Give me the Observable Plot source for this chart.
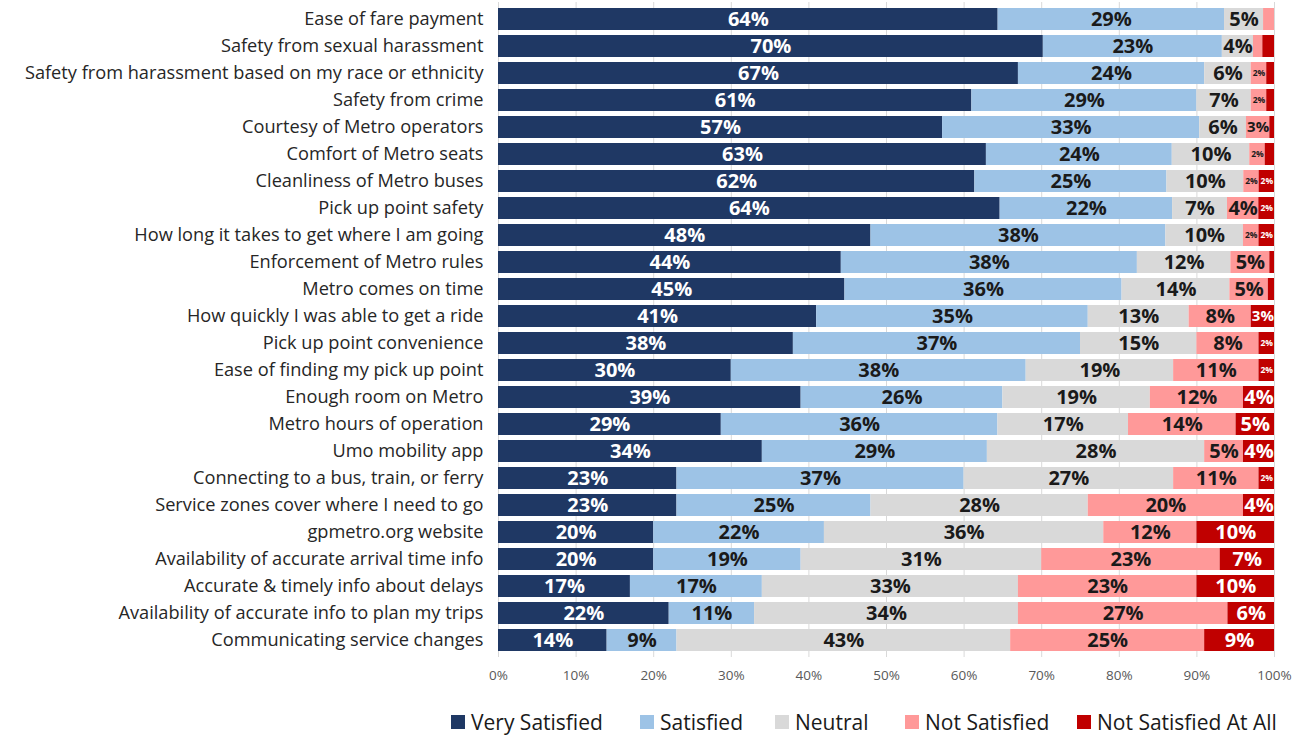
<!DOCTYPE html>
<html><head><meta charset="utf-8">
<script src="https://cdn.jsdelivr.net/npm/d3@7"></script>
<script src="https://cdn.jsdelivr.net/npm/@observablehq/plot@0.6"></script>
<style>
body{margin:0;background:#fff;font-family:"Open Sans", sans-serif;}
#chart{position:relative;width:1293px;height:735px;overflow:hidden}
#chart svg{display:block}
.legend{position:absolute;top:708px;left:0;width:1293px;height:28px;font-size:21px;color:#1a1a1a}
.item{position:absolute;top:0;display:flex;align-items:center;gap:6px;white-space:nowrap;line-height:28px}
.sw{width:14px;height:14px;display:inline-block}
</style></head><body><div id="chart"></div><script>
const categories = [
"Ease of fare payment",
"Safety from sexual harassment",
"Safety from harassment based on my race or ethnicity",
"Safety from crime",
"Courtesy of Metro operators",
"Comfort of Metro seats",
"Cleanliness of Metro buses",
"Pick up point safety",
"How long it takes to get where I am going",
"Enforcement of Metro rules",
"Metro comes on time",
"How quickly I was able to get a ride",
"Pick up point convenience",
"Ease of finding my pick up point",
"Enough room on Metro",
"Metro hours of operation",
"Umo mobility app",
"Connecting to a bus, train, or ferry",
"Service zones cover where I need to go",
"gpmetro.org website",
"Availability of accurate arrival time info",
"Accurate & timely info about delays",
"Availability of accurate info to plan my trips",
"Communicating service changes"];
const verySatisfied     = [64,70,67,61,57,63,62,64,48,44,45,41,38,30,39,29,34,23,23,20,20,17,22,14];
const satisfied         = [29,23,24,29,33,24,25,22,38,38,36,35,37,38,26,36,29,37,25,22,19,17,11,9];
const neutral           = [5,4,6,7,6,10,10,7,10,12,14,13,15,19,19,17,28,27,28,36,31,33,34,43];
const notSatisfied      = [1.4,1.2,2,2,3,2,2,4,2,5,5,8,8,11,12,14,5,11,20,12,23,23,27,25];
const notSatisfiedAtAll = [0,1.5,1,1,0.6,1.2,2,2,2,0.6,0.8,3,2,2,4,5,4,2,4,10,7,10,6,9];
const seriesNames = ["Very Satisfied","Satisfied","Neutral","Not Satisfied","Not Satisfied At All"];
const seriesColors = ["#1f3864","#9dc3e6","#d9d9d9","#ff9999","#c00000"];
const xTickValues = [0,10,20,30,40,50,60,70,80,90,100];
const xTickLabels = ["0%","10%","20%","30%","40%","50%","60%","70%","80%","90%","100%"];

const seriesValues = [verySatisfied, satisfied, neutral, notSatisfied, notSatisfiedAtAll];
const data = [];
categories.forEach((c, i) => seriesNames.forEach((s, j) => data.push({category: c, series: s, si: j, value: seriesValues[j][i]})));

const whiteSeries = new Set([0, 4]);
const labelText = (white) => d => (d.value >= 2 && whiteSeries.has(d.si) === white) ? Math.round(d.value) + "%" : "";
const labelSize = d => d.value < 2.5 ? 8.5 : d.value < 3.5 ? 15 : 20;
const st = (extra) => Plot.stackX({x: "value", y: "category", z: "series", offset: "normalize", ...extra});

const chart = Plot.plot({
  width: 1293, height: 690,
  marginLeft: 498, marginRight: 19, marginTop: 2, marginBottom: 33,
  style: {fontFamily: "'Open Sans', sans-serif", background: "#fff"},
  x: {domain: [0, 1], label: null},
  y: {domain: categories, padding: 0.19, label: null},
  color: {domain: seriesNames, range: seriesColors},
  marks: [
    Plot.gridX(xTickValues.map(v => v / 100), {stroke: "#d9d9d9", strokeOpacity: 1}),
    Plot.barX(data, st({fill: "series"})),
    Plot.text(data, st({text: labelText(true), fill: "#ffffff", fontWeight: "bold", fontSize: labelSize})),
    Plot.text(data, st({text: labelText(false), fill: "#1a1a1a", fontWeight: "bold", fontSize: labelSize})),
    Plot.axisY({tickSize: 0, tickPadding: 15, fontSize: 18.2, color: "#262626"}),
    Plot.axisX(xTickValues.map(v => v / 100), {tickSize: 0, tickPadding: 13, fontSize: 13.5, color: "#595959",
      tickFormat: d => xTickLabels[xTickValues.indexOf(Math.round(d * 100))]})
  ]
});
const root = document.getElementById("chart");
root.appendChild(chart);

const legend = document.createElement("div");
legend.className = "legend";
const legendLeft = [451, 640, 775, 905, 1077];
seriesNames.forEach((s, j) => {
  const it = document.createElement("div");
  it.className = "item";
  it.style.left = legendLeft[j] + "px";
  const sw = document.createElement("span");
  sw.className = "sw"; sw.style.background = seriesColors[j];
  const t = document.createElement("span"); t.textContent = s;
  it.appendChild(sw); it.appendChild(t);
  legend.appendChild(it);
});
root.appendChild(legend);
</script></body></html>
